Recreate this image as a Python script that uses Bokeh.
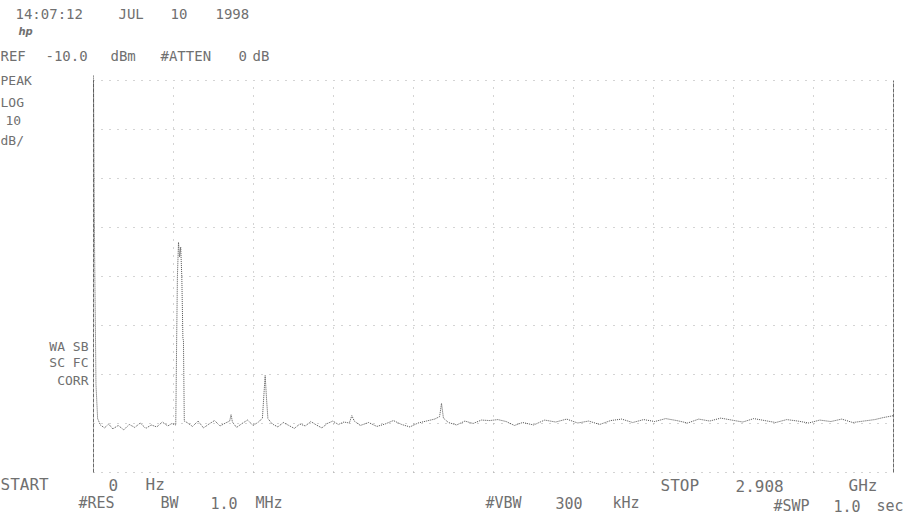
import numpy as np
from bokeh.plotting import figure
from bokeh.models import Range1d, Label
from bokeh.embed import file_html
from bokeh.resources import INLINE

# ---------------- data ----------------
freq_mhz = [0, 4, 9, 15, 25, 40, 55, 70, 90, 110,
            130, 150, 170, 190, 210, 230, 250, 270, 285, 299,
            302, 305, 309, 313, 317, 321, 325, 327, 330, 340, 360, 380,
            400, 420, 440, 460, 480, 495, 500, 505, 520, 540,
            560, 580, 600, 614, 619, 624, 629, 634, 650, 670,
            690, 710, 730, 750, 770, 790, 810, 830, 850, 870,
            890, 910, 930, 939, 948, 970, 1000, 1030, 1060, 1090,
            1120, 1150, 1180, 1210, 1240, 1258, 1265, 1272, 1290, 1320,
            1350, 1380, 1410, 1440, 1470, 1500, 1530, 1560, 1600, 1640,
            1680, 1720, 1760, 1800, 1840, 1880, 1920, 1960, 2000, 2040,
            2080, 2120, 2160, 2200, 2240, 2280, 2320, 2360, 2400, 2440,
            2480, 2520, 2560, 2600, 2640, 2680, 2720, 2760, 2800, 2840,
            2870, 2908]
level_dbm = [-9.0, -45.0, -72.0, -79.0, -80.3, -80.9, -80.1, -81.1, -80.4, -81.3,
             -80.2, -80.8, -79.9, -81.0, -80.3, -80.7, -79.7, -80.5, -80.0, -80.3,
             -64.5, -50.0, -43.0, -46.0, -44.0, -50.0, -62.7, -63.0, -79.5, -79.8, -80.6, -79.5,
             -80.9, -80.1, -79.4, -80.5, -79.9, -79.5, -78.2, -79.7, -80.8, -80.0,
             -79.3, -80.4, -79.7, -78.9, -74.5, -70.2, -75.0, -79.0, -80.1, -80.7,
             -79.8, -80.4, -81.0, -80.1, -80.5, -79.6, -80.3, -80.9, -80.0, -79.5,
             -80.2, -79.7, -79.9, -78.4, -79.5, -80.4, -79.8, -80.6, -80.1, -79.4,
             -80.2, -80.7, -79.9, -79.5, -79.1, -78.6, -75.9, -78.9, -79.8, -80.3,
             -79.5, -80.0, -79.3, -79.4, -79.2, -79.6, -80.4, -79.8, -80.3, -79.3,
             -79.7, -79.1, -79.9, -79.5, -80.2, -79.4, -79.1, -79.8, -79.2, -79.6,
             -79.0, -79.4, -79.9, -79.1, -79.5, -78.9, -79.3, -79.7, -79.0, -79.4,
             -79.8, -79.2, -79.5, -79.9, -79.3, -79.6, -79.1, -79.8, -79.5, -79.2,
             -78.8, -78.4]

ref_level_dbm = -10.0
db_per_div = 10
n_vdiv = 8
n_hdiv = 10
start_mhz = 0
stop_mhz = 2908

# annotation texts (words of the analyzer screen)
header_words = ["14:07:12", "JUL", "10", "1998"]
ref_words = ["REF", "-10.0", "dBm", "#ATTEN", "0", "dB"]
left_top_words = ["PEAK", "LOG", "10", "dB/"]
left_bottom_words = ["WA SB", "SC FC", "CORR"]
start_words = ["START", "0", "Hz"]
rbw_words = ["#RES", "BW", "1.0", "MHz"]
vbw_words = ["#VBW", "300", "kHz"]
stop_words = ["STOP", "2.908", "GHz"]
swp_words = ["#SWP", "1.0", "sec"]

# ---------------- layout (page pixels) ----------------
W, H = 914, 529
gx0, gx1 = 93, 893   # graticule left/right
gy0, gy1 = 80, 472   # graticule top/bottom

bottom_db = ref_level_dbm - n_vdiv * db_per_div
mpp = (stop_mhz - start_mhz) / (gx1 - gx0)
dpp = (ref_level_dbm - bottom_db) / (gy1 - gy0)
x_start = start_mhz - gx0 * mpp
x_end = x_start + W * mpp
y_top = ref_level_dbm + gy0 * dpp
y_bot = y_top - H * dpp

p = figure(width=W, height=H, output_backend="svg", toolbar_location=None,
           x_range=Range1d(x_start, x_end), y_range=Range1d(y_bot, y_top),
           x_axis_location=None, y_axis_location=None, min_border=0,
           background_fill_color="white", border_fill_color="white")
p.grid.visible = False
p.outline_line_color = None

# graticule
vx = np.linspace(start_mhz, stop_mhz, n_hdiv + 1)
hy = np.linspace(bottom_db, ref_level_dbm, n_vdiv + 1)
p.segment(x0=vx[1:-1], x1=vx[1:-1], y0=bottom_db, y1=ref_level_dbm,
          line_color="#a8a8a8", line_width=1, line_dash="1 7")
p.segment(x0=start_mhz, x1=stop_mhz, y0=hy, y1=hy,
          line_color="#a8a8a8", line_width=1, line_dash="1 7")
# frame borders
p.segment(x0=[start_mhz, stop_mhz], x1=[start_mhz, stop_mhz], y0=bottom_db, y1=ref_level_dbm,
          line_color="#6a6a6a", line_width=1, line_dash="4 1")

# trace
p.line(freq_mhz, level_dbm, line_color="#505050", line_width=1, line_dash="1 1")


def words(ws, xs, ys, size="14px", color="#707070", align="left"):
    if not isinstance(ys, (list, tuple)):
        ys = [ys] * len(ws)
    for w, px, py in zip(ws, xs, ys):
        p.add_layout(Label(x=px, y=H - py, x_units="screen", y_units="screen",
                           text=w, text_font="DejaVu Sans Mono", text_font_size=size,
                           text_color=color, text_baseline="middle", text_align=align))


words(header_words, [15, 118, 170, 215], 13)
p.add_layout(Label(x=18, y=H - 31, x_units="screen", y_units="screen",
                   text="hp", text_font="DejaVu Sans", text_font_size="10px",
                   text_font_style="bold italic", text_color="#707070", text_baseline="middle"))
words(ref_words, [0, 45, 110, 160, 238, 252], 55)
words(left_top_words, [0, 0, 5, 0], [80, 102, 120, 140], size="13px")
words(left_bottom_words, [88, 88, 88], [346, 362, 380], size="13px", align="right")
words(start_words, [0, 108, 145], 484, size="16px")
words(rbw_words, [78, 160, 210, 255], 502, size="15px")
words(vbw_words, [485, 555, 612], 502, size="15px")
words(stop_words, [660, 735, 848], 485, size="16px")
words(swp_words, [773, 833, 876], 505, size="15px")

open("out.html", "w").write(file_html(p, INLINE))
